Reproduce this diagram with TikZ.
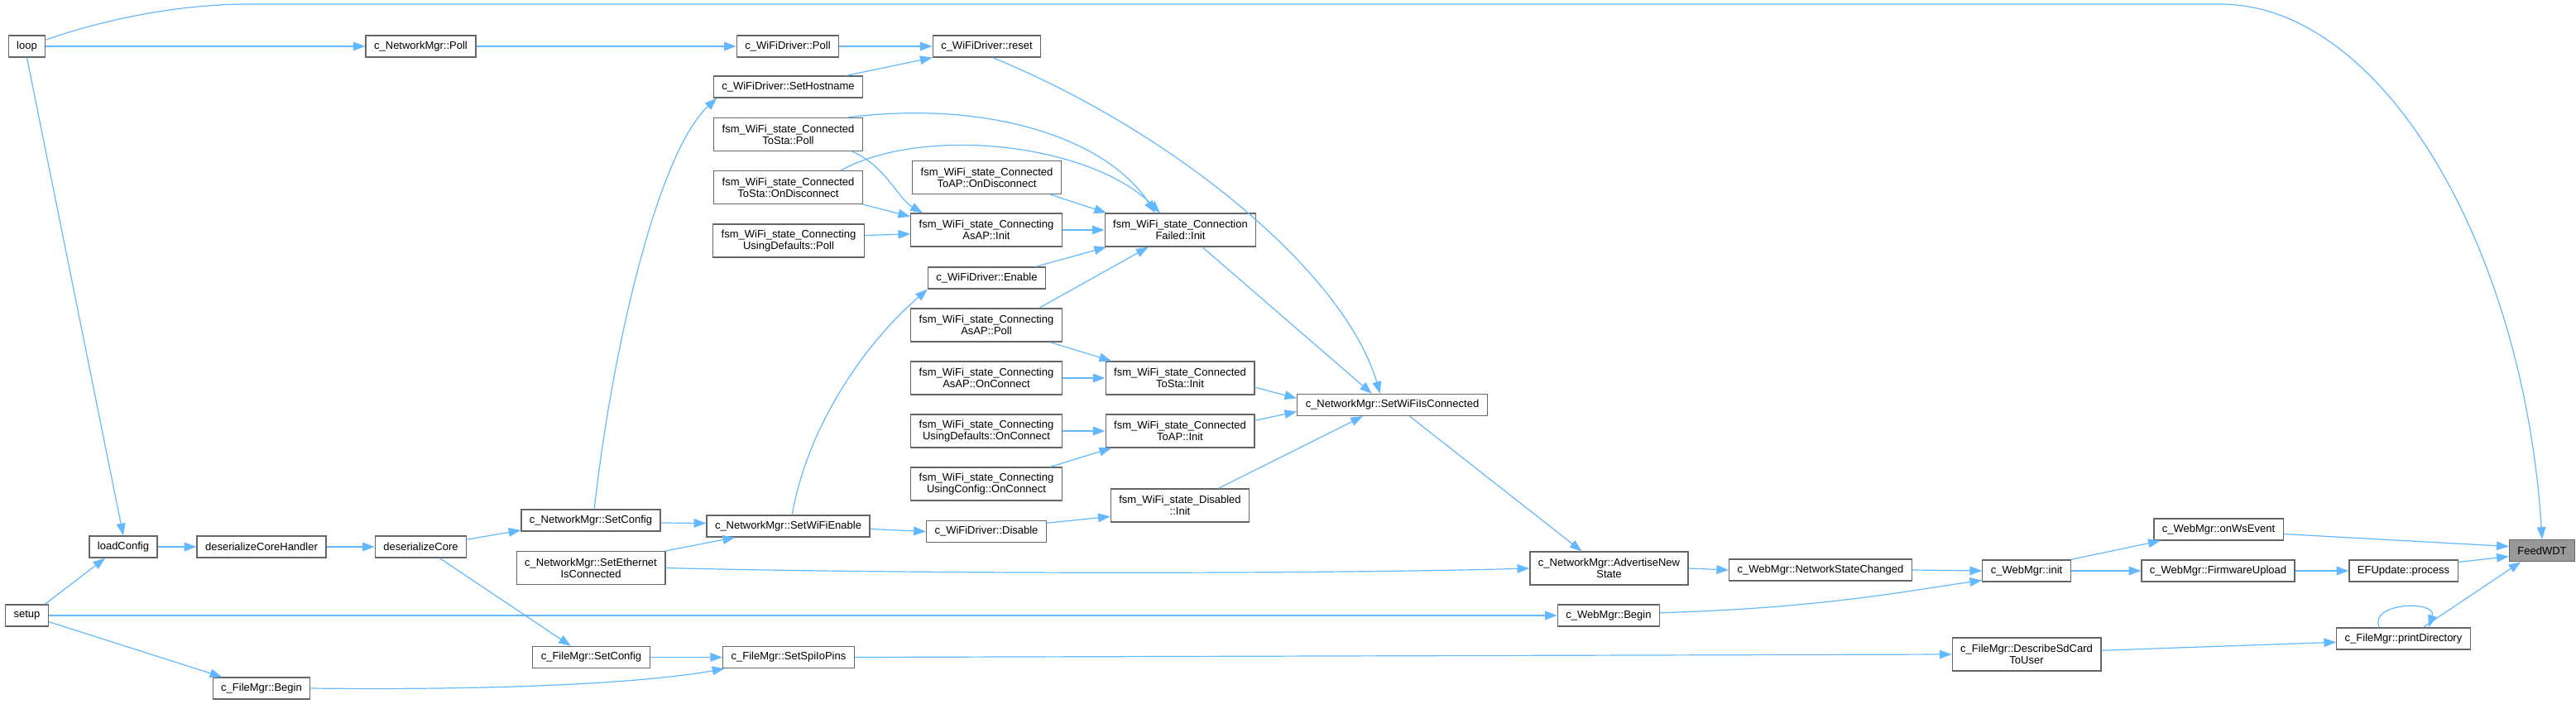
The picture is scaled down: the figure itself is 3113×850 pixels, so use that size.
\documentclass[tikz,border=0pt]{standalone}
\usepackage{fontspec}
\setmainfont{Liberation Sans}
\usetikzlibrary{arrows.meta}
\definecolor{edgeblue}{HTML}{63B8FF}
\definecolor{boxline}{HTML}{666666}
\definecolor{curfill}{HTML}{999999}

\begin{document}
\begin{tikzpicture}[x=0.75pt, y=-0.75pt, >={Triangle[length=11pt,width=8pt]},
                    every node/.style={font=\fontsize{9.75pt}{10.5pt}\selectfont},
                    fn/.style={draw=boxline, line width=1pt, fill=white, align=center,
                               inner xsep=7.5pt, inner ysep=0pt, minimum height=19.5pt},
                    fnn/.style={fn, minimum height=30pt},
                    cur/.style={fn, fill=curfill},
                    call/.style={edgeblue, line width=0.9pt, ->}]

  \useasboundingbox (0,0) rectangle (3113,850);

  %% 第一欄：入口函式
  \node[fn] (loop)  at (32.5,56)  {loop};
  \node[fn] (setup) at (32.5,744) {setup};

  %% 設定載入
  \node[fn] (loadcfg)  at (149,661)   {loadConfig};
  \node[fn] (dch)      at (316,661)   {deserializeCoreHandler};
  \node[fn] (fmbegin)  at (316,832)   {c\_FileMgr::Begin};
  \node[fn] (netpoll)  at (508.5,56)  {c\_NetworkMgr::Poll};
  \node[fn] (dcore)    at (508.5,661) {deserializeCore};
  \node[fn] (netsetcfg) at (714,629)  {c\_NetworkMgr::SetConfig};
  \node[fnn] (ethconn) at (714,686.5) {c\_NetworkMgr::SetEthernet\\IsConnected};
  \node[fn] (fmsetcfg) at (714.5,794.5) {c\_FileMgr::SetConfig};

  %% WiFi 驅動與狀態機（左欄）
  \node[fn] (wfpoll)   at (952,56)    {c\_WiFiDriver::Poll};
  \node[fn] (sethost)  at (952.5,105) {c\_WiFiDriver::SetHostname};
  \node[fnn] (stapoll) at (952.5,162.5) {fsm\_WiFi\_state\_Connected\\ToSta::Poll};
  \node[fnn] (stadisc) at (952.5,226.5) {fsm\_WiFi\_state\_Connected\\ToSta::OnDisconnect};
  \node[fnn] (defpoll) at (953,291)   {fsm\_WiFi\_state\_Connecting\\UsingDefaults::Poll};
  \node[fn] (setwifien) at (952.5,636) {c\_NetworkMgr::SetWiFiEnable};
  \node[fn] (spiio)    at (953,794.5) {c\_FileMgr::SetSpiIoPins};

  %% 狀態機（中欄）
  \node[fn] (wfreset)   at (1192.5,56)  {c\_WiFiDriver::reset};
  \node[fnn] (apdisc)   at (1192.5,214.5) {fsm\_WiFi\_state\_Connected\\ToAP::OnDisconnect};
  \node[fnn] (asapinit) at (1192,278)   {fsm\_WiFi\_state\_Connecting\\AsAP::Init};
  \node[fn] (enable)    at (1192.5,336) {c\_WiFiDriver::Enable};
  \node[fnn] (asappoll) at (1192,393)   {fsm\_WiFi\_state\_Connecting\\AsAP::Poll};
  \node[fnn] (asapconn) at (1192,457)   {fsm\_WiFi\_state\_Connecting\\AsAP::OnConnect};
  \node[fnn] (defconn)  at (1192,521)   {fsm\_WiFi\_state\_Connecting\\UsingDefaults::OnConnect};
  \node[fnn] (cfgconn)  at (1192,585)   {fsm\_WiFi\_state\_Connecting\\UsingConfig::OnConnect};
  \node[fn] (wfdisable) at (1192,642.5) {c\_WiFiDriver::Disable};

  %% 狀態機（右欄）
  \node[fnn] (failinit) at (1426.5,278) {fsm\_WiFi\_state\_Connection\\Failed::Init};
  \node[fnn] (stainit)  at (1426,457)   {fsm\_WiFi\_state\_Connected\\ToSta::Init};
  \node[fnn] (apinit)   at (1426,521)   {fsm\_WiFi\_state\_Connected\\ToAP::Init};
  \node[fnn] (disinit)  at (1426,611)   {fsm\_WiFi\_state\_Disabled\\::Init};

  %% 網路與網頁管理
  \node[fn] (isconn)    at (1682.5,489.5) {c\_NetworkMgr::SetWiFiIsConnected};
  \node[fnn] (advert)   at (1944.5,687) {c\_NetworkMgr::AdvertiseNew\\State};
  \node[fn] (webbegin)  at (1944,744)   {c\_WebMgr::Begin};
  \node[fn] (nsc)       at (2200,689)   {c\_WebMgr::NetworkStateChanged};
  \node[fn] (webinit)   at (2449,690)   {c\_WebMgr::init};
  \node[fnn] (describe) at (2449,791)   {c\_FileMgr::DescribeSdCard\\ToUser};
  \node[fn] (onws)      at (2681,640)   {c\_WebMgr::onWsEvent};
  \node[fn] (fwup)      at (2680.5,690) {c\_WebMgr::FirmwareUpload};
  \node[fn] (efu)       at (2904.5,690) {EFUpdate::process};
  \node[fn] (printdir)  at (2904.5,772) {c\_FileMgr::printDirectory};

  %% 被呼叫的函式
  \node[cur] (feed) at (3072,665.5) {FeedWDT};

  %% loop 的呼叫
  \draw[call] (loop.19) .. controls (130,22) and (220,5) .. (300,5) -- (2683,5)
              .. controls (2880,5) and (3050,300) .. (feed.north);
  \draw[call] (loop.east) -- (netpoll.west);
  \draw[call] (loop.south) -- (loadcfg.north);
  \draw[call] (netpoll.east) -- (wfpoll.west);
  \draw[call] (wfpoll.east) -- (wfreset.west);
  \draw[call] (sethost.11) -- (wfreset.south west);
  \draw[call] (wfreset.-62) .. controls (1420,160) and (1625,330) .. (isconn.137);

  %% 進入 ConnectingAsAP / ConnectionFailed
  \draw[call] (stapoll.16) .. controls (1200,120) and (1340,170) .. (failinit.146);
  \draw[call] (stapoll.-15) .. controls (1070,200) and (1085,240) .. (asapinit.165);
  \draw[call] (stadisc.18) .. controls (1120,150) and (1320,175) .. (failinit.140);
  \draw[call] (stadisc.south east) -- (asapinit.170);
  \draw[call] (apdisc.-15) -- (failinit.167);
  \draw[call] (defpoll.4) -- (asapinit.183);
  \draw[call] (asapinit.east) -- (failinit.west);
  \draw[call] (enable.13) -- (failinit.193);
  \draw[call] (asappoll.18) -- (failinit.208);
  \draw[call] (asappoll.-15) -- (stainit.166);
  \draw[call] (asapconn.east) -- (stainit.west);
  \draw[call] (defconn.east) -- (apinit.west);
  \draw[call] (cfgconn.15) -- (apinit.194);

  %% 進入 SetWiFiIsConnected
  \draw[call] (failinit.-38) -- (isconn.151);
  \draw[call] (stainit.-7) -- (isconn.176);
  \draw[call] (apinit.8) -- (isconn.184);
  \draw[call] (disinit.24) -- (isconn.201);
  \draw[call] (isconn.-33) -- (advert.148);

  %% 網頁管理到 FeedWDT
  \draw[call] (advert.east) -- (nsc.west);
  \draw[call] (nsc.east) -- (webinit.west);
  \draw[call] (webbegin.3) .. controls (2200,735) and (2300,715) .. (webinit.192);
  \draw[call] (webinit.north east) -- (onws.191);
  \draw[call] (webinit.east) -- (fwup.west);
  \draw[call] (fwup.east) -- (efu.west);
  \draw[call] (efu.9) -- (feed.190);
  \draw[call] (onws.-4) -- (feed.173);
  \draw[call] (printdir.155) .. controls (2862,728) and (2945,725) .. (printdir.24);
  \draw[call] (printdir.30) -- (feed.208);
  \draw[call] (describe.3) -- (printdir.183);
  \draw[call] (spiio.east) -- (describe.west);

  %% setup 的呼叫
  \draw[call] (setup.32) -- (loadcfg.212);
  \draw[call] (setup.east) -- (webbegin.west);
  \draw[call] (setup.-16) -- (fmbegin.164);
  \draw[call] (loadcfg.east) -- (dch.west);
  \draw[call] (dch.east) -- (dcore.west);
  \draw[call] (dcore.9) -- (netsetcfg.188);
  \draw[call] (dcore.-31) -- (fmsetcfg.151);
  \draw[call] (netsetcfg.73) .. controls (740,420) and (795,185) .. (sethost.189);
  \draw[call] (netsetcfg.-2) -- (setwifien.178);
  \draw[call] (ethconn.north east) -- (setwifien.192);
  \draw[call] (ethconn.east) .. controls (1100,694) and (1600,694) .. (advert.west);
  \draw[call] (setwifien.71) .. controls (975,520) and (1040,420) .. (enable.south west);
  \draw[call] (setwifien.-2) -- (wfdisable.180);
  \draw[call] (wfdisable.8) -- (disinit.189);
  \draw[call] (fmsetcfg.east) -- (spiio.west);
  \draw[call] (fmbegin.east) .. controls (650,835) and (800,822) .. (spiio.190);

\end{tikzpicture}
\end{document}
